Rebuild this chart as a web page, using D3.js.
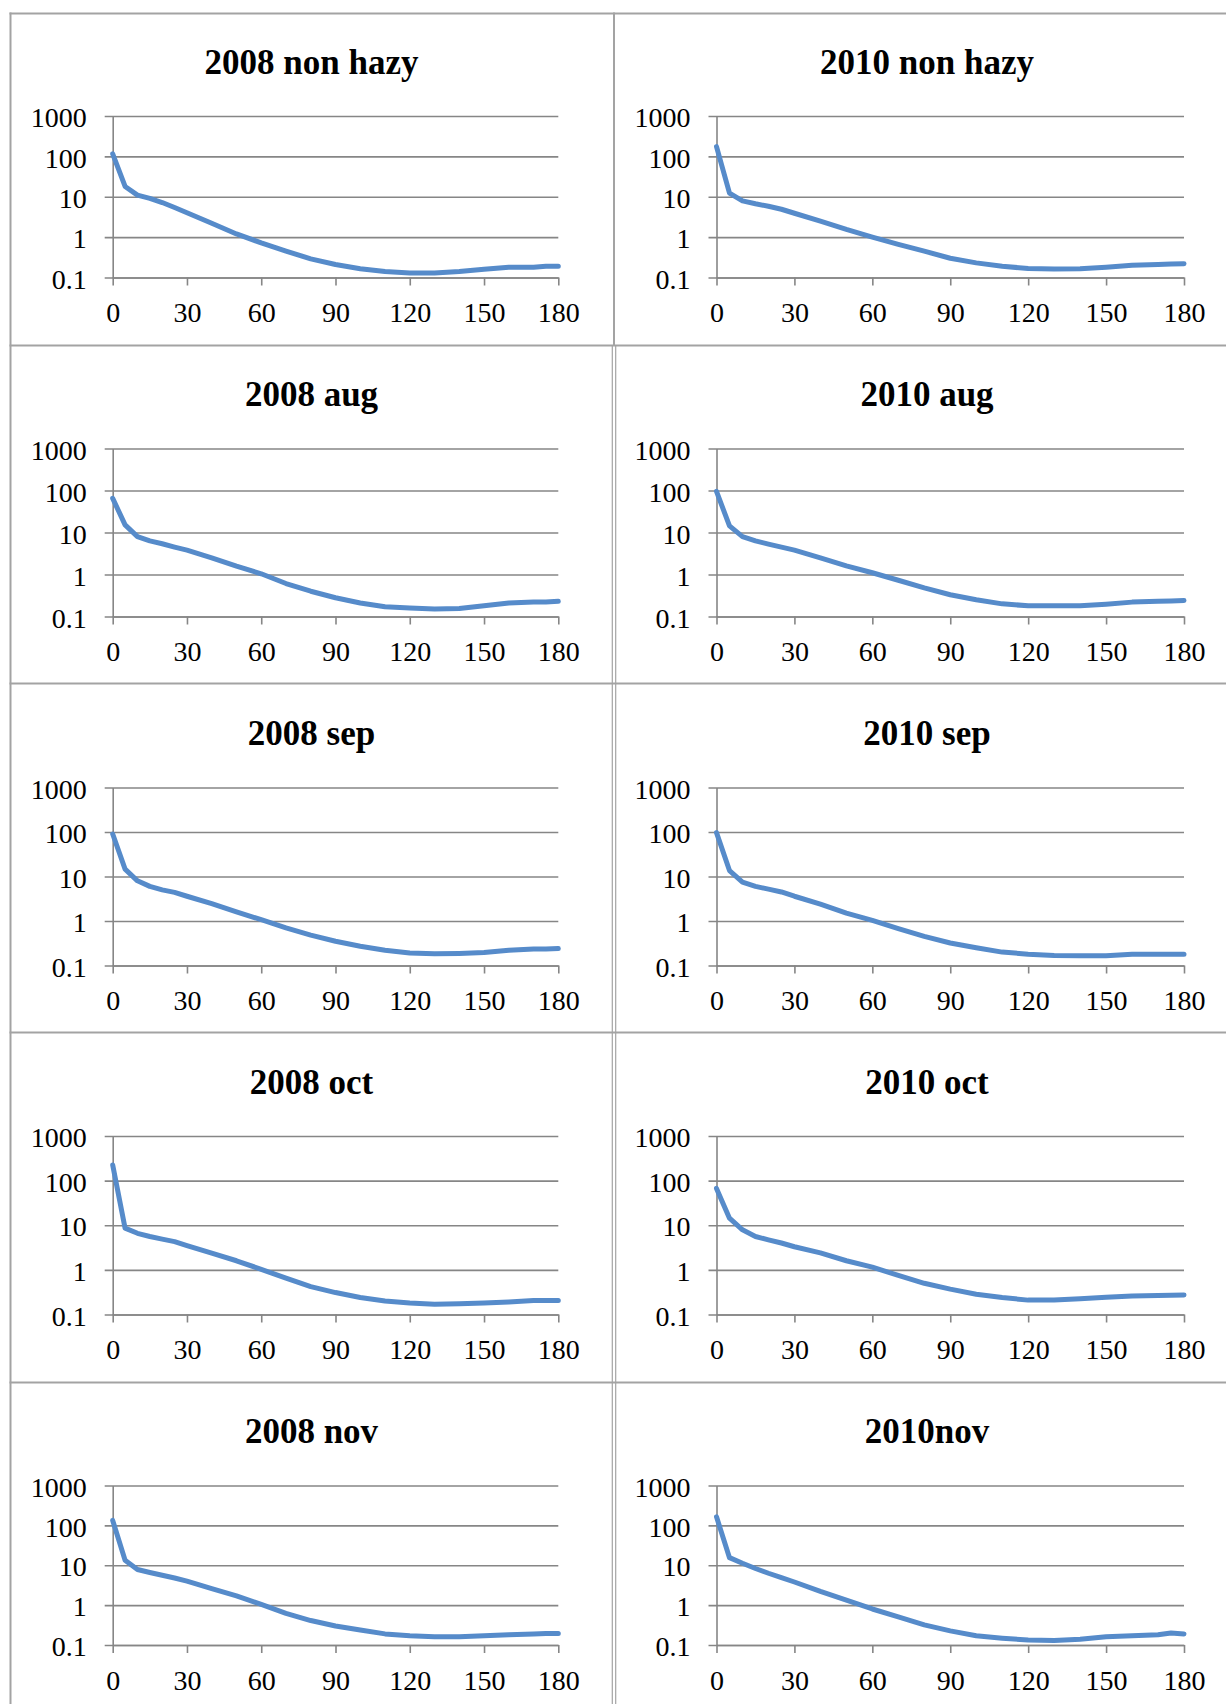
<!DOCTYPE html>
<html>
<head>
<meta charset="utf-8">
<script src="https://cdn.jsdelivr.net/npm/d3@7"></script>
<style>
body { margin: 0; background: #fff; }
</style>
</head>
<body>
<div id="chart"></div>
<script>
// minutes on the x axis, shared by every panel
var xs = [0, 5, 10, 15, 20, 25, 30, 40, 50, 60, 70, 80, 90, 100, 110, 120, 130, 140, 150, 160, 170, 175, 180];
var xTicks = [0, 30, 60, 90, 120, 150, 180];
var yTicks = [0.1, 1, 10, 100, 1000];
var yTickLabels = ["0.1", "1", "10", "100", "1000"];
var titles = ["2008 non hazy", "2010 non hazy", "2008 aug", "2010 aug", "2008 sep",
              "2010 sep", "2008 oct", "2010 oct", "2008 nov", "2010nov"];

var v2008nonhazy = [115, 18, 11, 9.1, 7.2, 5.4, 4.0, 2.2, 1.2, 0.72, 0.45, 0.29, 0.21, 0.165, 0.14, 0.13, 0.13, 0.14, 0.16, 0.18, 0.18, 0.19, 0.19];
var v2010nonhazy = [174, 12.3, 7.9, 6.7, 5.8, 4.9, 3.9, 2.5, 1.55, 1.0, 0.66, 0.45, 0.30, 0.23, 0.19, 0.167, 0.163, 0.165, 0.18, 0.2, 0.21, 0.215, 0.22];
var v2008aug = [65, 15.2, 8.0, 6.3, 5.4, 4.5, 3.8, 2.5, 1.58, 1.04, 0.61, 0.40, 0.28, 0.21, 0.17, 0.16, 0.15, 0.155, 0.18, 0.21, 0.22, 0.22, 0.23];
var v2010aug = [95, 14.4, 8.0, 6.3, 5.3, 4.5, 3.8, 2.5, 1.6, 1.1, 0.73, 0.48, 0.33, 0.25, 0.20, 0.18, 0.18, 0.18, 0.197, 0.22, 0.23, 0.235, 0.24];
var v2008sep = [90, 14.6, 8.0, 6.0, 5.0, 4.4, 3.6, 2.45, 1.6, 1.07, 0.70, 0.48, 0.35, 0.27, 0.22, 0.19, 0.184, 0.187, 0.195, 0.22, 0.235, 0.235, 0.24];
var v2010sep = [97, 13.6, 7.5, 6.0, 5.2, 4.5, 3.6, 2.4, 1.5, 1.03, 0.67, 0.45, 0.32, 0.25, 0.20, 0.18, 0.168, 0.165, 0.165, 0.178, 0.18, 0.18, 0.18];
var v2008oct = [224, 8.6, 6.6, 5.6, 4.9, 4.3, 3.5, 2.36, 1.6, 1.03, 0.65, 0.42, 0.31, 0.24, 0.20, 0.18, 0.17, 0.175, 0.18, 0.19, 0.205, 0.205, 0.205];
var v2010oct = [67, 14.4, 7.9, 5.6, 4.7, 4.0, 3.3, 2.4, 1.6, 1.15, 0.75, 0.5, 0.37, 0.285, 0.24, 0.21, 0.21, 0.225, 0.245, 0.26, 0.265, 0.27, 0.275];
var v2008nov = [133, 13.3, 7.8, 6.6, 5.6, 4.8, 4.0, 2.6, 1.7, 1.04, 0.62, 0.41, 0.30, 0.237, 0.19, 0.17, 0.16, 0.16, 0.17, 0.18, 0.19, 0.195, 0.195];
var v2010nov = [164, 15.5, 11.2, 8.3, 6.3, 4.9, 3.8, 2.2, 1.33, 0.8, 0.51, 0.32, 0.226, 0.17, 0.148, 0.133, 0.13, 0.14, 0.16, 0.17, 0.18, 0.2, 0.19];

var series = [v2008nonhazy, v2010nonhazy, v2008aug, v2010aug, v2008sep,
              v2010sep, v2008oct, v2010oct, v2008nov, v2010nov];

// page layout (table cells and plot boxes)
var W = 1226, H = 1704;
var rowLines = [13.5, 345.5, 683.5, 1032.5, 1382.5];
var gridTop = [116, 448.5, 787.5, 1136, 1485.5];
var gridBottom = [277.5, 616.5, 965.5, 1314.5, 1645];
var colX0 = [112.7, 716.5], colX1 = [558.3, 1184];
var titleX = [311.5, 927];
var serif = "'Liberation Serif', 'Times New Roman', serif";
var gridColor = "#868686", borderColor = "#a3a3a3", lineColor = "#568bca";

var svg = d3.select("#chart").append("svg")
    .attr("width", W)
    .attr("height", H);

// table borders
rowLines.forEach(function(y) {
  svg.append("line").attr("x1", 9.5).attr("x2", W).attr("y1", y).attr("y2", y)
    .attr("stroke", borderColor).attr("stroke-width", 2);
});
svg.append("line").attr("x1", 10.5).attr("x2", 10.5).attr("y1", rowLines[0] - 1).attr("y2", H)
  .attr("stroke", borderColor).attr("stroke-width", 2);
svg.append("line").attr("x1", 614).attr("x2", 614).attr("y1", rowLines[0] - 1).attr("y2", rowLines[1])
  .attr("stroke", borderColor).attr("stroke-width", 2);
[612.3, 615.7].forEach(function(x) {
  svg.append("line").attr("x1", x).attr("x2", x).attr("y1", rowLines[1]).attr("y2", H)
    .attr("stroke", borderColor).attr("stroke-width", 1.2);
});

series.forEach(function(vals, i) {
  var row = Math.floor(i / 2), col = i % 2;
  var x0 = colX0[col], x1 = colX1[col];
  var top = gridTop[row], bottom = gridBottom[row];

  var x = d3.scaleLinear().domain([0, 180]).range([x0, x1]);
  var y = d3.scaleLog().domain([0.1, 1000]).range([bottom, top]);

  // title
  svg.append("text")
    .attr("x", titleX[col])
    .attr("y", top - 54.5)
    .attr("dy", "0.35em")
    .attr("text-anchor", "middle")
    .style("font-family", serif)
    .style("font-size", "35px")
    .style("font-weight", "bold")
    .text(titles[i]);

  // horizontal gridlines (with the little stub left of the axis)
  var grid = svg.append("g")
    .attr("transform", "translate(" + (x0 - 8) + ",0)")
    .call(d3.axisRight(y).tickValues(yTicks).tickSize(x1 - x0 + 8).tickFormat(""));
  grid.select(".domain").remove();
  grid.selectAll("line").attr("stroke", gridColor).attr("stroke-width", 1.6);

  // y axis with labels
  var ya = svg.append("g")
    .attr("transform", "translate(" + x0 + ",0)")
    .call(d3.axisLeft(y).tickValues(yTicks).tickSize(0).tickSizeOuter(0).tickPadding(26)
      .tickFormat(function(d, k) { return yTickLabels[k]; }));
  ya.select(".domain").attr("stroke", gridColor).attr("stroke-width", 1.6);
  ya.selectAll("text")
    .attr("fill", "#000")
    .attr("dy", "0.38em")
    .style("font-family", serif)
    .style("font-size", "28px");

  // x axis
  var xa = svg.append("g")
    .attr("transform", "translate(0," + bottom + ")")
    .call(d3.axisBottom(x).tickValues(xTicks).tickSize(8).tickSizeOuter(0).tickPadding(17)
      .tickFormat(d3.format("d")));
  xa.select(".domain").attr("stroke", gridColor).attr("stroke-width", 1.6);
  xa.selectAll("line").attr("stroke", gridColor).attr("stroke-width", 1.6);
  xa.selectAll("text")
    .attr("fill", "#000")
    .style("font-family", serif)
    .style("font-size", "28px");

  // the series line
  var line = d3.line()
    .x(function(d, k) { return x(xs[k]); })
    .y(function(d) { return y(d); });

  svg.append("path")
    .datum(vals)
    .attr("d", line)
    .attr("fill", "none")
    .attr("stroke", lineColor)
    .attr("stroke-width", 5)
    .attr("stroke-linejoin", "round")
    .attr("stroke-linecap", "round");
});
</script>
</body>
</html>
